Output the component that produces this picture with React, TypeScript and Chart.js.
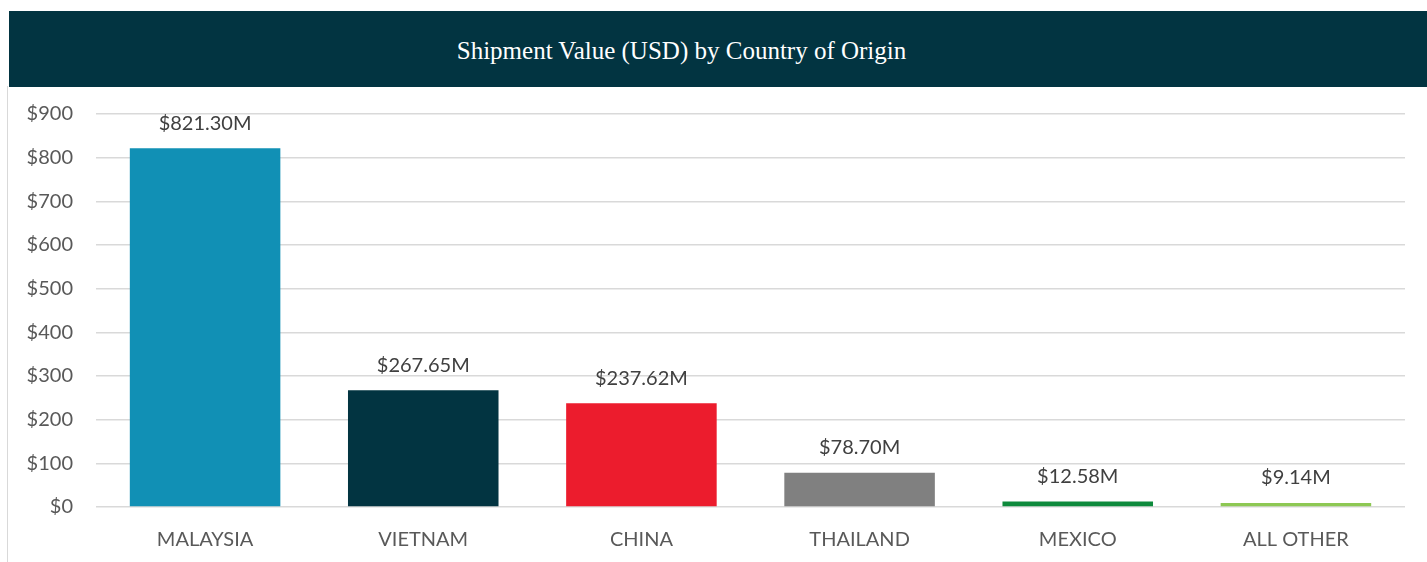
import React, { useEffect, useRef } from "react";
import { Chart, registerables } from "chart.js";

Chart.register(...registerables);

const categories = ["MALAYSIA", "VIETNAM", "CHINA", "THAILAND", "MEXICO", "ALL OTHER"];
const values = [821.3, 267.65, 237.62, 78.7, 12.58, 9.14];
const valueLabels = ["$821.30M", "$267.65M", "$237.62M", "$78.70M", "$12.58M", "$9.14M"];
const barColors = ["#1190b5", "#023441", "#ec1c2d", "#808080", "#0e8a3c", "#8dc853"];
const titleText = "Shipment Value (USD) by Country of Origin";

const FONT = "Lato, 'Open Sans', sans-serif";

const valueLabelPlugin = {
  id: "valueLabels",
  afterDatasetsDraw(chart: any) {
    const ctx = chart.ctx;
    const meta = chart.getDatasetMeta(0);
    ctx.save();
    ctx.font = `20px ${FONT}`;
    ctx.fillStyle = "#404040";
    ctx.textAlign = "center";
    ctx.textBaseline = "middle";
    meta.data.forEach((bar: any, i: number) => {
      ctx.fillText(valueLabels[i], bar.x, bar.y - 25);
    });
    ctx.restore();
  },
};

export default function App() {
  const ref = useRef<HTMLCanvasElement>(null);
  useEffect(() => {
    if (!ref.current) return;
    const chart = new Chart(ref.current, {
      type: "bar",
      data: {
        labels: categories,
        datasets: [
          {
            data: values,
            backgroundColor: barColors,
            barPercentage: 0.69,
            categoryPercentage: 1,
          },
        ],
      },
      options: {
        animation: false,
        responsive: false,
        maintainAspectRatio: false,
        layout: { padding: { top: 27, right: 22, left: 0, bottom: 0 } },
        plugins: { legend: { display: false }, tooltip: { enabled: false }, title: { display: false } },
        scales: {
          x: {
            grid: { display: false },
            border: { display: false },
            ticks: { color: "#595959", font: { size: 20, family: FONT }, padding: 13 },
            afterFit(scale: any) {
              scale.height = 55;
              scale.paddingLeft = 0;
              scale.paddingRight = 0;
            },
          },
          y: {
            min: 0,
            max: 900,
            grid: { color: "#d9d9d9", lineWidth: 1.5, drawTicks: false },
            border: { display: false },
            ticks: {
              stepSize: 100,
              color: "#595959",
              font: { size: 20, family: FONT },
              padding: 23,
              callback: (v: any) => "$" + v,
            },
            afterFit(scale: any) {
              scale.width = 88;
              scale.paddingTop = 0;
              scale.paddingBottom = 0;
            },
          },
        },
      },
      plugins: [valueLabelPlugin],
    });
    return () => chart.destroy();
  }, []);

  return (
    <div style={{ position: "absolute", left: 0, top: 0, width: 1427, height: 562, background: "#fff", overflow: "hidden" }}>
      <div
        style={{
          position: "absolute",
          left: 9,
          top: 11,
          width: 1418,
          height: 76,
          background: "#023441",
        }}
      >
        <div
          style={{
            position: "absolute",
            left: 0,
            width: 1345,
            top: 2,
            height: 76,
            lineHeight: "76px",
            textAlign: "center",
            color: "#ffffff",
            fontFamily: "'Liberation Serif', 'DejaVu Serif', serif",
            fontSize: 25,
          }}
        >
          {titleText}
        </div>
      </div>
      <div style={{ position: "absolute", left: 7, top: 86, width: 1, height: 476, background: "#d9d9d9" }} />
      <canvas ref={ref} width={1419} height={475} style={{ position: "absolute", left: 8, top: 87, width: 1419, height: 475 }} />
    </div>
  );
}
